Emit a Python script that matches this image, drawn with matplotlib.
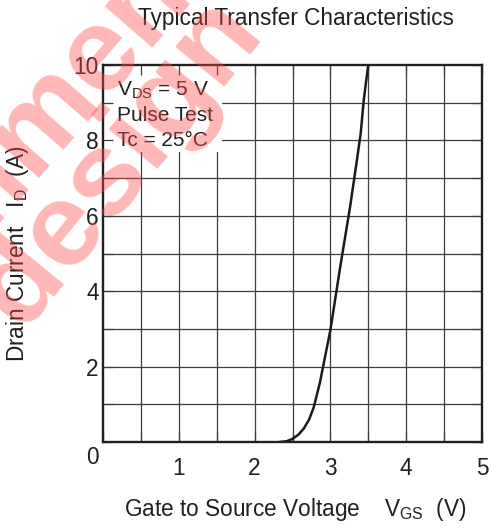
"""
Typical transfer characteristics (I_D vs V_GS) redrawn from a datasheet figure.
"""
import matplotlib
matplotlib.use("Agg")
import matplotlib.pyplot as plt
from matplotlib.patches import Rectangle

plt.rcParams["font.family"] = ["Liberation Sans", "DejaVu Sans"]
plt.rcParams["mathtext.fontset"] = "custom"
plt.rcParams["mathtext.rm"] = "Liberation Sans"
plt.rcParams["mathtext.default"] = "regular"

# curve
vgs = [2.33, 2.42, 2.50, 2.58, 2.65, 2.72, 2.78, 2.86, 3.00, 3.13, 3.26, 3.35, 3.40, 3.44, 3.47, 3.50]
i_d = [0.00, 0.02, 0.08, 0.20, 0.36, 0.60, 0.92, 1.56, 2.97, 4.65, 6.24, 7.48, 8.19, 9.07, 9.55, 10.0]

x_ticks = [0, 1, 2, 3, 4, 5]
x_minor = [0.5, 1.5, 2.5, 3.5, 4.5]
y_ticks = [0, 2, 4, 6, 8, 10]
y_minor = [1, 3, 5, 7, 9]

title = "Typical Transfer Characteristics"
xlabel = "Gate to Source Voltage    $V_{GS}$  (V)"
ylabel = "Drain Current   $I_{D}$  (A)"
notes = ["$V_{DS}$ = 5 V", "Pulse Test", "Tc = 25°C"]
watermark = ["Recommended", "design"]

INK = "#231f20"
FS = 16.3

W, H = 492, 528
fig = plt.figure(figsize=(W / 100, H / 100), dpi=100)
L, R, T, B = 103, 482, 65, 442
ax = fig.add_axes([L / W, 1 - B / H, (R - L) / W, (B - T) / H])
px_x = 1 / (R - L)
px_y = 1 / (B - T)

ax.set_xlim(0, 5)
ax.set_ylim(0, 10)

grid_kw = dict(color="#3c3c3c", lw=0.9, zorder=1)
for v in x_ticks[1:-1] + x_minor:
    ax.axvline(v, **grid_kw)
for v in y_ticks[1:-1] + y_minor:
    ax.axhline(v, **grid_kw)

# white patch behind the conditions text
ax.add_patch(Rectangle((0, 1 - 87 * px_y), 119 * px_x, 87 * px_y,
                       transform=ax.transAxes, facecolor="white",
                       edgecolor="none", zorder=2))

ax.plot(vgs, i_d, color="#1a1a1a", lw=1.8, zorder=4)

ax.set_axisbelow(False)
ax.set_xticks(x_ticks)
ax.set_xticks(x_minor, minor=True)
ax.set_yticks(y_ticks)
ax.set_yticks(y_minor, minor=True)
ax.set_xticklabels([""] + [str(v) for v in x_ticks[1:]])
ax.set_yticklabels([""] + [str(v) for v in y_ticks[1:]])
ax.tick_params(which="both", direction="in", length=7, width=0.9,
               color="#3c3c3c", top=True, right=True)
ax.tick_params(axis="x", which="major", pad=11, labelsize=FS, labelcolor=INK)
ax.tick_params(axis="y", which="major", pad=3, labelsize=FS, labelcolor=INK)
ax.text(-11 * px_x, -16 * px_y, "0", transform=ax.transAxes, ha="center",
        va="center", fontsize=FS, color=INK)

for s in ax.spines.values():
    s.set_linewidth(1.7)
    s.set_color(INK)
    s.set_zorder(5)

for k, line in enumerate(notes):
    ypix = 90 + 25 * k
    ax.text(14 * px_x, (B - ypix) * px_y, line, transform=ax.transAxes,
            ha="left", va="center", fontsize=15, color=INK, zorder=6)

ax.set_xlabel(xlabel, fontsize=FS, color=INK)
ax.xaxis.set_label_coords(0.5 + 3 * px_x, -(496 - B) * px_y)
ax.set_ylabel(ylabel, fontsize=FS, color=INK)
ax.yaxis.set_label_coords(-(L - 31) * px_x, 0.5)

fig.text(296 / W, 1 - 18 / H, title, ha="center", va="center",
         fontsize=FS, color=INK)

# red watermark
wm = dict(rotation_mode="anchor", ha="center", va="center",
          fontsize=86, fontweight="bold", color="#ff4a4a", alpha=0.4, zorder=10)
fig.text(28 / W, 1 - 135 / H, watermark[0], rotation=49, **wm)
fig.text(119 / W, 1 - 162 / H, watermark[1], rotation=51, **wm)

fig.savefig("out.png", dpi=100)
